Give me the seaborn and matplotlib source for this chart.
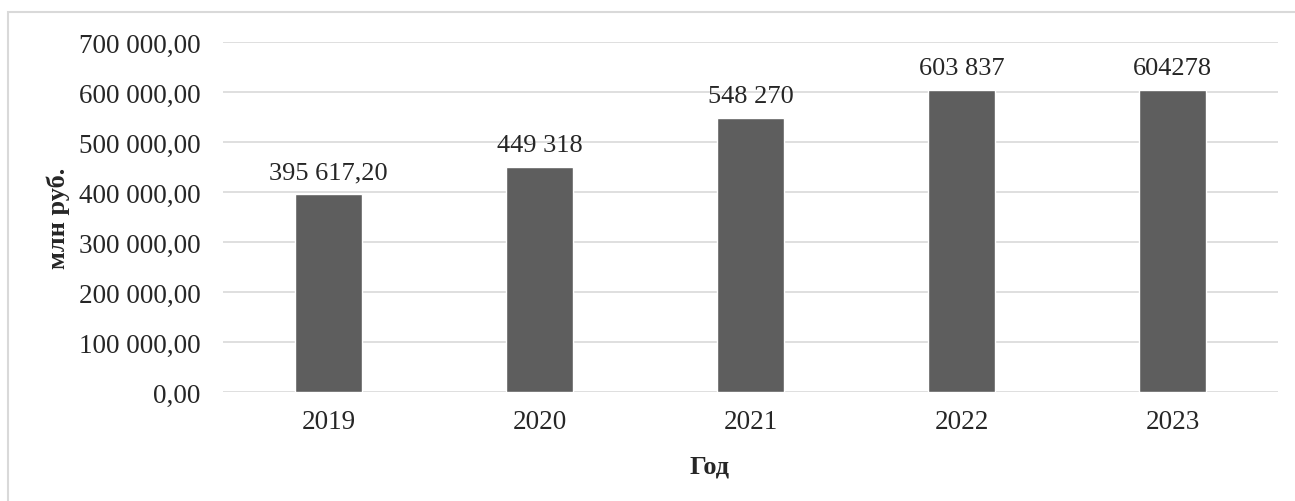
import matplotlib
matplotlib.use("Agg")
import matplotlib.pyplot as plt
from matplotlib.patches import Rectangle
import seaborn as sns
import pandas as pd

years = ["2019", "2020", "2021", "2022", "2023"]
values = [395617.20, 449318, 548270, 603837, 604278]
bar_labels = ["395 617,20", "449 318", "548 270", "603 837", "604278"]
y_ticks = [0, 100000, 200000, 300000, 400000, 500000, 600000, 700000]
y_tick_labels = ["0,00", "100 000,00", "200 000,00", "300 000,00",
                 "400 000,00", "500 000,00", "600 000,00", "700 000,00"]

df = pd.DataFrame({"year": years, "value": values})

sns.set_style("white")
plt.rcParams["font.family"] = ["Liberation Serif", "DejaVu Serif"]

fig = plt.figure(figsize=(12.95, 5.02), dpi=100)
ax = fig.add_axes([223 / 1295, 109 / 502, 1055 / 1295, 350 / 502])

sns.barplot(data=df, x="year", y="value", color="#5e5e5e", saturation=1,
            width=0.313, ax=ax, zorder=3)
ax.bar_label(ax.containers[0], labels=bar_labels, padding=8, fontsize=19)

ax.set_ylim(0, 700000)
ax.set_xlim(-0.5, 4.5)
ax.set_yticks(y_ticks)
ax.set_yticklabels(y_tick_labels)
ax.tick_params(axis="both", length=0, labelsize=19.5)
ax.tick_params(axis="y", pad=16)
ax.tick_params(axis="x", pad=12)
ax.yaxis.grid(True, color="#d9d9d9", linewidth=1.2, zorder=0)
ax.set_axisbelow(True)
for s in ax.spines.values():
    s.set_visible(False)

ax.set_xlabel("Год", fontsize=19, fontweight="bold")
ax.set_ylabel("млн руб.", fontsize=19, fontweight="bold")
ax.xaxis.set_label_coords(0.4616, -0.211)
ax.xaxis.label.set_va("center")
ax.yaxis.set_label_coords(-0.156, 0.5)
ax.yaxis.label.set_va("center")

# light frame of chart area (cut by image edge on right/bottom)
fig.add_artist(Rectangle((8 / 1295, -0.1), 1.2, 1.1 - 13 / 502,
                         transform=fig.transFigure, fill=False,
                         edgecolor="#d9d9d9", linewidth=1.5))

fig.savefig("out.png", dpi=100)
